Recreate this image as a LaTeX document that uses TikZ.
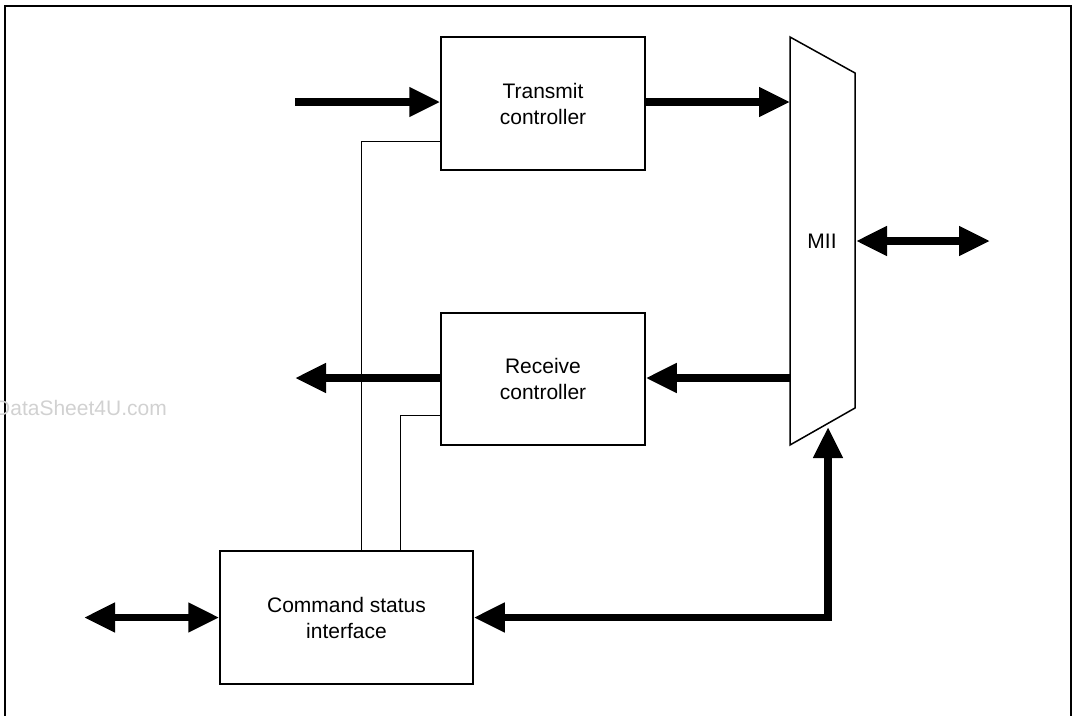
\documentclass[tikz,border=0pt]{standalone}
\usepackage{fontspec}
\setmainfont{Liberation Sans}
\usetikzlibrary{arrows.meta}
\tikzset{
  block/.style={draw, line width=1.5pt, inner sep=0pt, align=center,
    font=\fontsize{21}{26}\selectfont},
  thin/.style={line width=1pt},
  bus/.style={line width=7.5pt, line join=miter},
  bushead/.style={-{Triangle[length=31pt,width=28pt]}},
  busboth/.style={{Triangle[length=31pt,width=28pt]}-{Triangle[length=31pt,width=28pt]}},
}
\begin{document}
\begin{tikzpicture}[x=1pt,y=-1pt]
\useasboundingbox (0,0) rectangle (1075,715);
% frame
\draw[line width=2pt] (5,725) -- (5,6) -- (1071,6) -- (1071,725);
% watermark
\node[anchor=base west, inner sep=0pt, text=black!18,
  font=\fontsize{21}{26}\selectfont] (wm) at (-5,415) {DataSheet4U.com};
% blocks
\node[block, minimum width=204pt, minimum height=133pt] (tx) at (543,103.5) {Transmit\\controller};
\node[block, minimum width=204pt, minimum height=132pt] (rx) at (543,379) {Receive\\controller};
\node[block, minimum width=253pt, minimum height=133pt] (cmd) at (346.5,617.5) {Command status\\interface};
% MII trapezoid
\coordinate (m1) at (790,37);
\coordinate (m2) at (855,73);
\coordinate (m3) at (855,408);
\coordinate (m4) at (790,445);
\draw[line width=1.5pt, line join=miter] (m1) -- (m2) -- (m3) -- (m4) -- cycle;
\node[inner sep=0pt, font=\fontsize{21}{26}\selectfont] (mii) at (822,241) {MII};
\coordinate (miiB) at (828,427);
\coordinate (miiR) at (856,241);
\coordinate (ext) at (990,241);
\coordinate (in) at (295,102);
\coordinate (out) at (295,378);
\coordinate (host) at (84,617.5);
% thick buses
\draw[bus, bushead] (in) -- (in -| tx.west);
\draw[bus, bushead] (tx.east |- in) -- (in -| m1);
\draw[bus, bushead] (out -| m1) -- (rx.east |- out);
\draw[bus, bushead] (rx.west |- out) -- (out);
\draw[bus, busboth] (miiR) -- (ext);
\draw[bus, busboth] (host) -- (cmd.west);
\draw[bus, busboth] (cmd.east) -| (miiB);
% thin control lines
\draw[thin] (tx.west |- 0,141) -| (cmd.north -| 361,0);
\draw[thin] (rx.west |- 0,415) -| (cmd.north -| 400,0);
\end{tikzpicture}
\end{document}
